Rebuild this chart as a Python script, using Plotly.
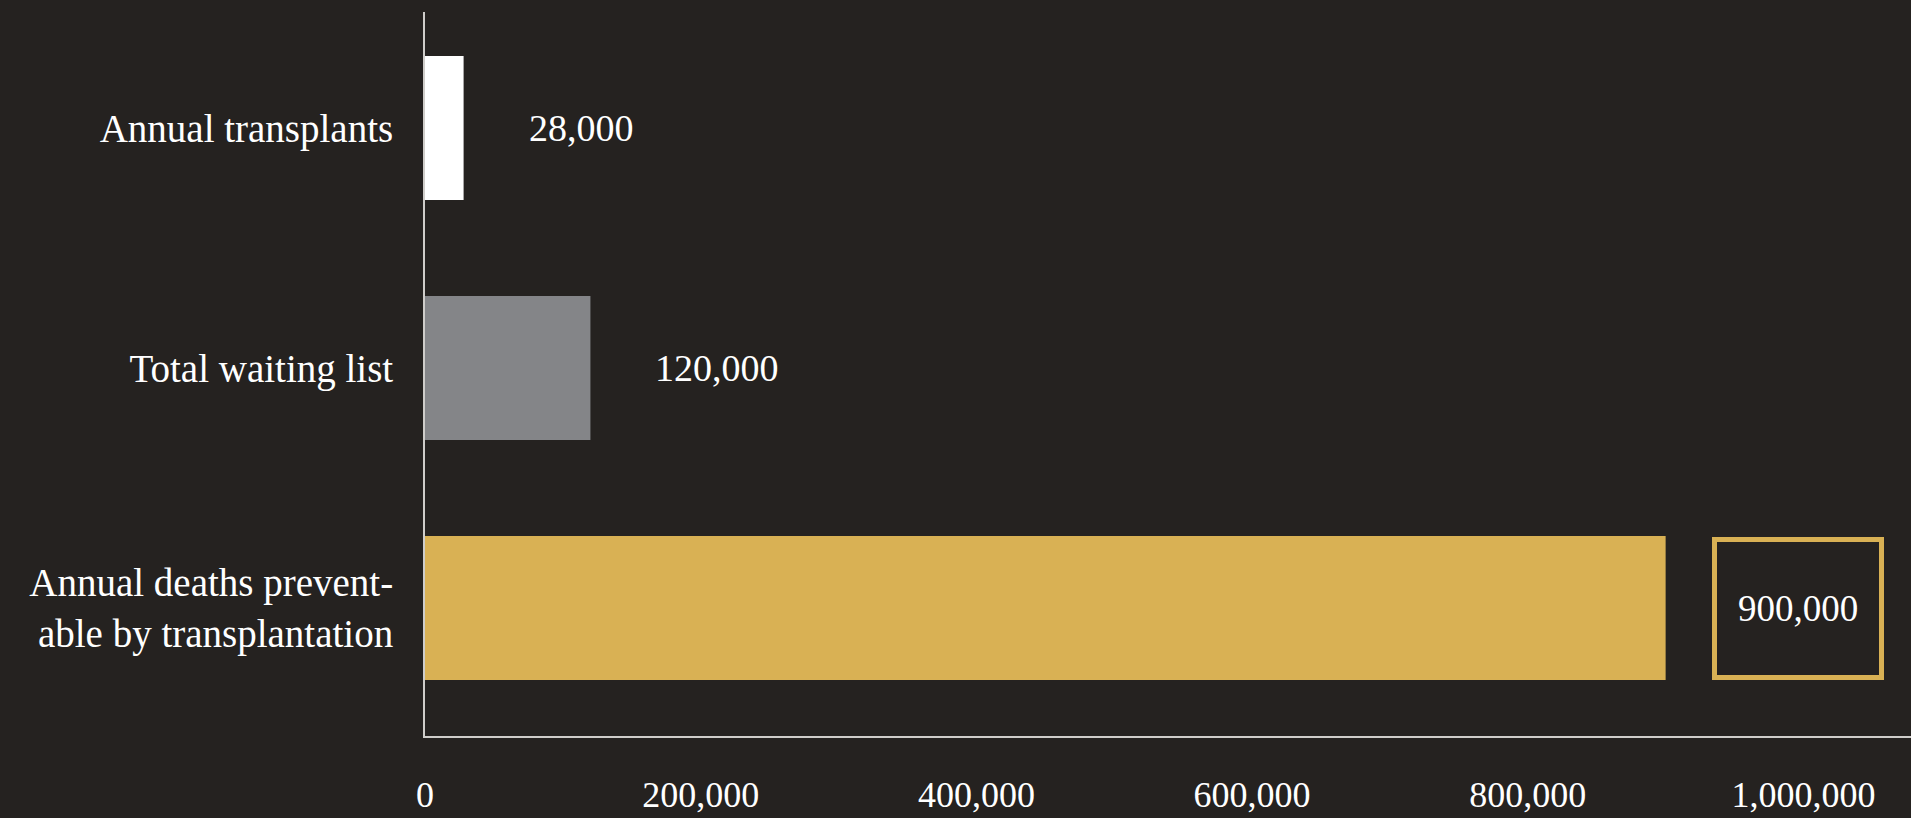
import plotly.graph_objects as go

categories = ["Annual transplants", "Total waiting list", "Annual deaths prevent-<br>able by transplantation"]
values = [28000, 120000, 900000]
value_labels = ["28,000", "120,000", "900,000"]
bar_colors = ["#ffffff", "#848588", "#d9b154"]
tick_values = [0, 200000, 400000, 600000, 800000, 1000000]
tick_labels = ["0", "200,000", "400,000", "600,000", "800,000", "1,000,000"]

BG = "#252220"
FONT = "Liberation Serif"

fig = go.Figure()
fig.add_trace(go.Bar(
    x=values, y=categories, orientation="h",
    marker=dict(color=bar_colors, line=dict(width=0)),
    width=0.6, hoverinfo="skip",
))

# value labels
for i in range(2):
    fig.add_annotation(x=values[i], y=categories[i], text=value_labels[i],
                       showarrow=False, xanchor="left", yanchor="middle",
                       xshift=63, font=dict(family=FONT, size=38, color="#ffffff"))
fig.add_annotation(x=values[2], y=categories[2], text=value_labels[2],
                   showarrow=False, xanchor="left", yanchor="middle",
                   xshift=46, yshift=0, width=162, height=133,
                   align="center", valign="middle",
                   bordercolor="#d9b154", borderwidth=5, borderpad=0,
                   font=dict(family=FONT, size=37, color="#ffffff"))

fig.update_layout(
    width=1911, height=818,
    paper_bgcolor=BG, plot_bgcolor=BG,
    margin=dict(l=425, r=0, t=12, b=82),
    showlegend=False,
    font=dict(family=FONT, color="#ffffff"),
    xaxis=dict(range=[0, 1078000], tickvals=tick_values, ticktext=tick_labels,
               showgrid=False, zeroline=False, showline=True, linecolor="#cfcdca",
               linewidth=2, ticks="", ticklabelstandoff=26, automargin=False,
               tickfont=dict(family=FONT, size=36, color="#ffffff")),
    yaxis=dict(type="category", categoryarray=categories, range=[2.533, -0.483],
               showgrid=False, zeroline=False, showline=True, linecolor="#cfcdca",
               linewidth=2, ticks="", ticklabelstandoff=22, automargin=False,
               tickfont=dict(family=FONT, size=39, color="#ffffff")),
)

fig.write_html("out.html")
